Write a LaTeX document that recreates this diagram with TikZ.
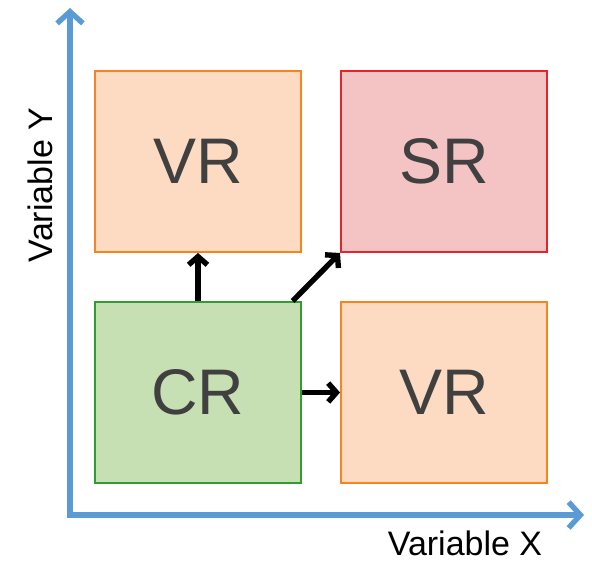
\documentclass[tikz,border=0pt]{standalone}
\usepackage{fontspec}
\setmainfont{Liberation Sans}
\usetikzlibrary{arrows.meta}
\definecolor{axisblue}{HTML}{5B9BD5}
\definecolor{peach}{HTML}{FDDBC2}
\definecolor{peachline}{HTML}{F7841E}
\definecolor{rose}{HTML}{F4C3C3}
\definecolor{roseline}{HTML}{E6242A}
\definecolor{leaf}{HTML}{C6E0B4}
\definecolor{leafline}{HTML}{2E9E2E}
\definecolor{txt}{HTML}{404040}
\begin{document}
\begin{tikzpicture}[x=0.03cm,y=-0.03cm]
            \tikzstyle{region}=[draw,line width=1.7pt,minimum width=6.18cm,minimum height=5.43cm,anchor=north west,text=txt,font=\fontsize{55}{62}\selectfont]
            \tikzstyle{axis}=[draw=axisblue,line width=4.6pt,-{Straight Barb[length=10pt,width=22pt,line width=4.6pt]}]
            \tikzstyle{move}=[draw,line width=4.6pt,-{Straight Barb[length=7pt,width=16pt,line width=4.6pt]}]
            \useasboundingbox (0,0) rectangle (592,561);
            \node[region,fill=peach,draw=peachline](vrtop) at (94,70){VR};
            \node[region,fill=rose,draw=roseline](sr) at (340,70){SR};
            \node[region,fill=leaf,draw=leafline](cr) at (94,301){CR};
            \node[region,fill=peach,draw=peachline](vrright) at (340,301){VR};
            \coordinate (origin) at (70,515);
            \coordinate (ytip) at (70,8);
            \coordinate (xtip) at (584,515);
            \draw[axis] (origin) -- (ytip);
            \draw[axis] ([xshift=-2.3pt]origin) -- (xtip);
            \node[rotate=90,text=black,font=\fontsize{29}{34}\selectfont](ylabel) at (40,185){Variable Y};
            \node[text=black,font=\fontsize{29}{34}\selectfont](xlabel) at (465,543){Variable X};
            \draw[move] (cr.north) -- (vrtop.south);
            \draw[move] ([xshift=-8]cr.north east) -- (sr.south west);
            \draw[move] (cr.east) -- (vrright.west);
          \end{tikzpicture}
\end{document}
